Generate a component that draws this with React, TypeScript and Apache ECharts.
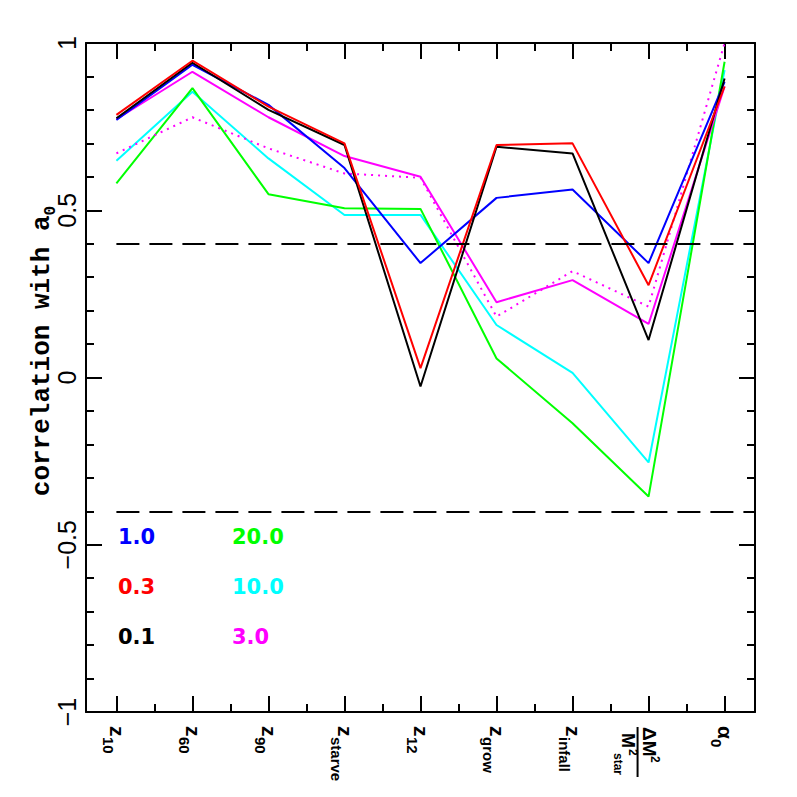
import React, { useEffect, useRef } from 'react';
import * as echarts from 'echarts';

// ---- data ----
const categoryIndex = [0, 1, 2, 3, 4, 5, 6, 7, 8];
const labelMain = ['z', 'z', 'z', 'z', 'z', 'z', 'z', '', 'α'];
const labelSub = ['10', '60', '90', 'starve', '12', 'grow', 'infall', '', '0'];
const minorIndex = [0.5, 1.5, 2.5, 3.5, 4.5, 5.5, 6.5, 7.5];
const yTicks = [-1, -0.5, 0, 0.5, 1];

const s01 = [0.775, 0.941, 0.80, 0.695, -0.027, 0.69, 0.67, 0.112, 0.894]; // black 0.1
const s03 = [0.785, 0.947, 0.81, 0.70, 0.028, 0.695, 0.70, 0.276, 0.87]; // red 0.3
const s10 = [0.77, 0.935, 0.815, 0.626, 0.342, 0.537, 0.562, 0.342, 0.884]; // blue 1.0
const s30 = [0.772, 0.914, 0.778, 0.662, 0.60, 0.225, 0.291, 0.16, 0.87]; // magenta 3.0
const s30dot = [0.67, 0.778, 0.685, 0.61, 0.597, 0.182, 0.318, 0.212, 1.0]; // magenta dotted
const s100 = [0.648, 0.854, 0.655, 0.486, 0.486, 0.157, 0.014, -0.254, 0.919]; // cyan 10.0
const s200 = [0.58, 0.865, 0.548, 0.506, 0.504, 0.057, -0.137, -0.356, 0.944]; // green 20.0
const refLevels = [0.4, -0.4];

const legendRows = [
  { text: '1.0', color: '#0000ff', col: 0, row: 0 },
  { text: '20.0', color: '#00ff00', col: 1, row: 0 },
  { text: '0.3', color: '#ff0000', col: 0, row: 1 },
  { text: '10.0', color: '#00ffff', col: 1, row: 1 },
  { text: '0.1', color: '#000000', col: 0, row: 2 },
  { text: '3.0', color: '#ff00ff', col: 1, row: 2 },
];

// ---- layout ----
const GL = 86, GR = 42, GT = 43, GB = 85;
const PW = 797 - GL - GR;
const XMIN = -0.4, XMAX = 8.4;
const xPix = (v: number) => GL + ((v - XMIN) / (XMAX - XMIN)) * PW;
const LABEL_TOP = 726;

const black = '#000';
const lineStyle = { color: black, width: 2 };

const baseX: any = {
  type: 'value', min: XMIN, max: XMAX,
  splitLine: { show: false },
  axisLabel: { show: false },
  axisTick: { show: false },
  axisLine: { show: false, onZero: false },
};
const baseY: any = {
  type: 'value', min: -1, max: 1, interval: 0.5,
  splitLine: { show: false },
  axisLabel: { show: false },
  axisTick: { show: true, inside: true, length: 16, lineStyle },
  minorTick: { show: true, splitNumber: 5, length: 8, lineStyle },
  axisLine: { show: true, onZero: false, lineStyle },
};

const mkSeries = (data: number[], color: string, type: any = 'solid', extra: any = {}) => ({
  type: 'line',
  data: data.map((v, i) => [categoryIndex[i], v]),
  symbol: 'none',
  lineStyle: { color, width: 2, type },
  itemStyle: { color },
  silent: true,
  ...extra,
});

const txt = (x: number, y: number, text: string, font: string, extra: any = {}) => ({
  type: 'text', x, y,
  style: { text, font, fill: black, align: 'left', verticalAlign: 'middle', ...extra },
});

// rotated x-axis labels (reading top to bottom)
const xLabelGraphics = categoryIndex
  .filter((i) => labelMain[i])
  .map((i) => ({
    type: 'group', x: xPix(i), y: LABEL_TOP, rotation: -Math.PI / 2,
    children: [
      txt(0, -1, labelMain[i], 'bold 21px "Liberation Sans"'),
      txt(labelMain[i] === 'α' ? 13 : 11, 8, labelSub[i], 'bold 15px "Liberation Sans"'),
    ],
  }));

const fractionGraphic = {
  type: 'group', x: xPix(7), y: LABEL_TOP + 1, rotation: -Math.PI / 2,
  children: [
    txt(0, -1, 'ΔM', 'bold 19px "Liberation Sans"'),
    txt(29, -6, '2', 'bold 12px "Liberation Sans"'),
    { type: 'line', shape: { x1: 0, y1: 11, x2: 50, y2: 11 }, style: { stroke: black, lineWidth: 2 } },
    txt(6, 21, 'M', 'bold 18px "Liberation Sans"'),
    txt(22, 16, '2', 'bold 12px "Liberation Sans"'),
    txt(26, 31, 'star', 'bold 12px "Liberation Sans"'),
  ],
};

const option: any = {
  animation: false,
  backgroundColor: '#fff',
  grid: { left: GL, right: GR, top: GT, bottom: GB, containLabel: false },
  xAxis: [
    {
      ...baseX, position: 'bottom',
      axisLine: { show: true, onZero: false, lineStyle },
      axisTick: { show: true, inside: true, length: 16, lineStyle, customValues: categoryIndex },
    },
    { ...baseX, position: 'bottom', axisTick: { show: true, inside: true, length: 8, lineStyle, customValues: minorIndex } },
    {
      ...baseX, position: 'top',
      axisLine: { show: true, onZero: false, lineStyle },
      axisTick: { show: true, inside: true, length: 16, lineStyle, customValues: categoryIndex },
    },
    { ...baseX, position: 'top', axisTick: { show: true, inside: true, length: 8, lineStyle, customValues: minorIndex } },
  ],
  yAxis: [
    {
      ...baseY, position: 'left',
      axisLabel: {
        show: true, rotate: 90, margin: 7, color: black,
        fontSize: 25, fontFamily: 'Liberation Sans',
        customValues: yTicks,
        formatter: (v: number) => (v < 0 ? '\u2212' + Math.abs(v) : String(v)),
      },
    },
    { ...baseY, position: 'right' },
  ],
  series: [
    mkSeries(s100, '#00ffff'),
    mkSeries(s200, '#00ff00'),
    mkSeries(s30dot, '#ff00ff', [2, 5]),
    mkSeries(s30, '#ff00ff'),
    mkSeries(s10, '#0000ff'),
    mkSeries(s01, '#000000', 'solid', {
      markLine: {
        silent: true,
        symbol: ['none', 'none'],
        label: { show: false },
        lineStyle: { color: black, width: 2, type: [23, 10] },
        data: refLevels.map((r) => [{ coord: [0, r] }, { coord: [XMAX, r] }]),
      },
    }),
    mkSeries(s03, '#ff0000'),
  ],
  graphic: [
    {
      type: 'text', x: 43, y: 351, rotation: Math.PI / 2,
      style: {
        text: '{m|correlation with a}{s|0}',
        align: 'center', verticalAlign: 'middle',
        rich: {
          m: { fontSize: 26, fontFamily: 'Liberation Mono', fontWeight: 'bold', fill: black, lineHeight: 28, verticalAlign: 'top' },
          s: { fontSize: 16, fontFamily: 'Liberation Mono', fontWeight: 'bold', fill: black, lineHeight: 16, padding: [14, 0, 0, 0], verticalAlign: 'top' },
        },
      },
    },
    ...legendRows.map((r) => ({
      type: 'text',
      x: r.col === 0 ? 118 : 232,
      y: 537 + r.row * 50,
      style: {
        text: r.text, fill: r.color,
        font: 'bold 21px "DejaVu Sans"',
        align: 'left', verticalAlign: 'middle',
      },
    })),
    ...xLabelGraphics,
    fractionGraphic,
  ],
};

export default function App() {
  const ref = useRef<HTMLDivElement>(null);
  useEffect(() => {
    const chart = echarts.init(ref.current!, null, { renderer: 'svg' });
    chart.setOption(option);
    return () => chart.dispose();
  }, []);
  return (
    <div
      ref={ref}
      style={{ position: 'absolute', left: 0, top: 0, width: 797, height: 797, background: '#fff' }}
    />
  );
}
